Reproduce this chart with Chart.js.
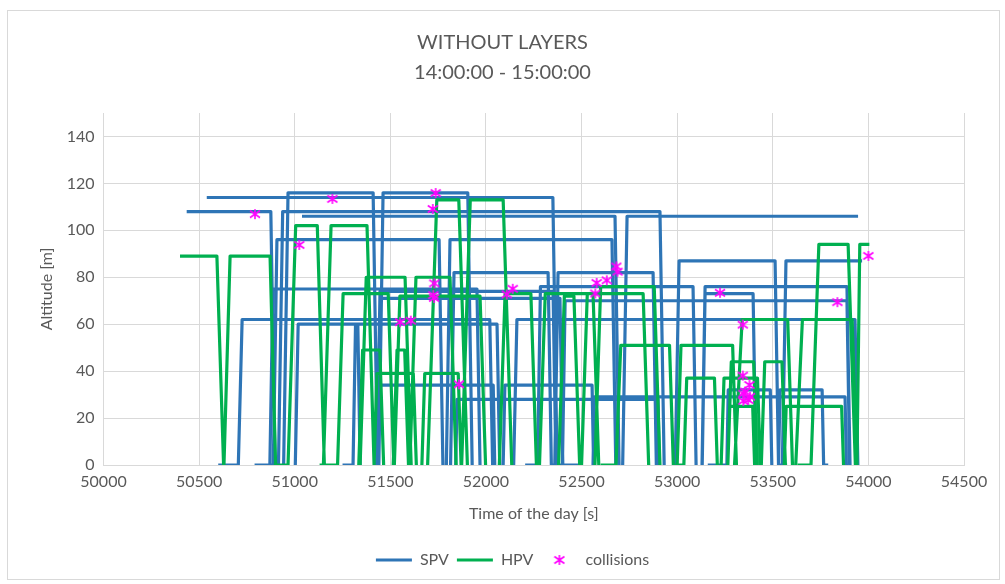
<!DOCTYPE html>
<html>
<head>
<meta charset="utf-8">
<script src="https://cdn.jsdelivr.net/npm/chart.js@4.4.1/dist/chart.umd.min.js"></script>
<style>
  html, body { margin: 0; padding: 0; background: #ffffff; }
  #wrap { position: relative; width: 1005px; height: 584px; }
  canvas { display: block; }
</style>
</head>
<body>
<div id="wrap"><canvas id="chart" width="1005" height="584"></canvas></div>
<script>
// Flight profiles: each flight is a list of [time of day (s), altitude (m)] vertices.
const spvFlights = [
  [[50540,114],[52350,114],[52372,0]],
  [[50435,108],[50875,108],[50897,0]],
  [[50790,0],[50915,0],[50937,108],[52910,108],[52932,0]],
  [[50942,0],[50965,116],[51410,116],[51433,0]],
  [[51440,0],[51462,116],[51905,116],[51928,0]],
  [[51038,106],[52675,106],[52696,0]],
  [[52715,0],[52738,106],[53946,106]],
  [[50888,0],[50907,96],[51755,96],[51775,0]],
  [[51793,0],[51812,96],[52659,96],[52679,0]],
  [[52990,0],[53010,87],[53512,87],[53530,0],[53575,0]],
  [[53550,0],[53569,87],[53967,87]],
  [[51815,0],[51833,82],[52325,82],[52342,0],[52490,0]],
  [[52360,0],[52377,82],[52874,82],[52891,0]],
  [[52205,0],[52270,0],[52285,76],[53083,76],[53099,0]],
  [[53130,0],[53146,76],[53888,76],[53904,0]],
  [[53131,0],[53146,73],[53397,73],[53412,0]],
  [[50870,0],[50886,75],[51953,75],[51969,0]],
  [[51430,0],[51446,74],[52351,74],[52366,0]],
  [[51432,0],[51446,71],[52387,71],[52402,0]],
  [[52400,0],[52414,70],[53888,70],[53902,0]],
  [[50600,0],[50705,0],[50725,62],[52020,62],[52035,0]],
  [[52145,0],[52162,62],[53930,62],[53945,0]],
  [[51003,0],[51018,60],[52058,60],[52072,0]],
  [[51250,0],[51305,0],[51318,60],[51330,60],[51342,0]],
  [[51428,0],[51436,34],[52038,34],[52046,0]],
  [[52090,0],[52099,34],[52555,34],[52563,0]],
  [[51842,0],[51849,28],[52900,28],[52907,0]],
  [[52560,0],[52567,29],[53878,29],[53885,0]],
  [[53160,0],[53260,0],[53267,32],[53487,32],[53495,0]],
  [[53530,0],[53538,32],[53758,32],[53766,0],[53790,0]]
];

const hpvFlights = [
  [[50400,89],[50593,89],[50628,0]],
  [[50630,0],[50662,89],[50871,89],[50900,0]],
  [[50890,0],[50965,0],[51005,102],[51118,102],[51155,0]],
  [[51150,0],[51190,102],[51378,102],[51415,0]],
  [[51695,0],[51743,113],[51858,113],[51903,0]],
  [[51873,0],[51918,113],[52090,113],[52135,0]],
  [[53630,0],[53700,0],[53741,94],[53894,94],[53932,0]],
  [[53940,0],[53955,94],[54005,94]],
  [[51342,0],[51374,80],[51577,80],[51609,0]],
  [[51602,0],[51634,80],[51812,80],[51844,0]],
  [[52570,0],[52600,76],[52880,76],[52910,0]],
  [[51130,0],[51224,0],[51253,73],[51489,73],[51518,0]],
  [[51521,0],[51550,72],[51969,72],[51998,0]],
  [[52070,0],[52100,73],[52235,73],[52264,0]],
  [[52280,0],[52310,73],[52822,73],[52851,0]],
  [[52380,0],[52410,72],[52460,72],[52490,0]],
  [[52500,0],[52530,73],[52560,73],[52590,0]],
  [[53300,0],[53340,62],[53578,62],[53603,0]],
  [[53620,0],[53655,62],[53915,62],[53940,0]],
  [[52600,0],[52680,0],[52705,51],[52960,51],[52980,0]],
  [[53000,0],[53020,51],[53290,51],[53310,0]],
  [[53265,0],[53283,44],[53400,44],[53418,0]],
  [[53440,0],[53458,44],[53548,44],[53566,0]],
  [[52990,0],[53035,0],[53050,37],[53195,37],[53210,0]],
  [[53230,0],[53245,37],[53420,37],[53435,0]],
  [[53265,0],[53275,25],[53395,25],[53405,0]],
  [[53560,0],[53570,25],[53860,25],[53870,0]],
  [[51335,0],[51355,49],[51445,49],[51465,0]],
  [[51515,0],[51535,49],[51575,49],[51595,0]],
  [[51415,0],[51430,39],[51620,39],[51636,0]],
  [[51665,0],[51680,39],[51855,39],[51870,0]]
];

// Detected conflicts between the two vehicle types.
const collisionTime = [50792,51024,51197,51737,51722,51730,51725,51729,51551,51607,51859,
  52109,52140,52579,52572,52632,52682,52688,53224,53343,53343,53378,53355,53381,53346,53372,53346,
  53838,54000];
const collisionAlt = [106.9,93.8,113.4,115.9,109.1,77.4,72.4,71.2,60.9,61.5,34.4,
  72.7,75.1,77.6,73.1,78.7,84.6,82.4,73.4,59.8,38.1,34.1,31.3,29.1,27.3,27.7,30.4,
  69.4,89.1];

const xTickValues = [50000,50500,51000,51500,52000,52500,53000,53500,54000,54500];
const yTickValues = [0,20,40,60,80,100,120,140];

const seriesNames = ['SPV', 'HPV', 'collisions'];
const spvColor = '#2E75B6';
const hpvColor = '#00B050';
const hitColor = '#FF00FF';
const textColor = '#595959';
const gridColor = '#D9D9D9';
const fontFamily = 'Lato, "Open Sans", "Noto Sans", sans-serif';

// Join flights into one polyline per fleet, breaking the line between flights.
function toPolyline(flights) {
  const pts = [];
  flights.forEach(f => {
    f.forEach(([t, a]) => pts.push({ x: t, y: a }));
    pts.push({ x: f[f.length - 1][0], y: null });
  });
  return pts;
}

// Asterisk marker (vertical bar plus a cross).
function makeAsterisk(size, color, lw) {
  const c = document.createElement('canvas');
  c.width = size; c.height = size;
  const g = c.getContext('2d');
  g.strokeStyle = color; g.lineWidth = lw;
  const m = size / 2, r = size / 2 - 1;
  g.beginPath();
  g.moveTo(m, m - r); g.lineTo(m, m + r);
  g.moveTo(m - r, m - r * 0.7); g.lineTo(m + r, m + r * 0.7);
  g.moveTo(m + r, m - r * 0.7); g.lineTo(m - r, m + r * 0.7);
  g.stroke();
  return c;
}
const asterisk = makeAsterisk(12, hitColor, 1.6);

// Outer frame of the chart.
const framePlugin = {
  id: 'frame',
  beforeDraw(chart) {
    const ctx = chart.ctx;
    ctx.save();
    ctx.fillStyle = '#ffffff';
    ctx.fillRect(0, 0, chart.width, chart.height);
    ctx.strokeStyle = '#D9D9D9';
    ctx.lineWidth = 1;
    ctx.strokeRect(7.5, 10.5, 992, 569);
    ctx.restore();
  }
};

// Nudge the legend row to sit slightly right of centre.
const legendShift = {
  id: 'legendShift',
  afterLayout(chart) {
    const lg = chart.legend;
    if (lg) { lg.left += 10; lg.right += 10; }
  }
};

const collisionPoints = collisionTime.map((t, i) => ({ x: t, y: collisionAlt[i] }));

new Chart(document.getElementById('chart'), {
  type: 'scatter',
  data: {
    datasets: [
      {
        label: seriesNames[2],
        data: collisionPoints,
        showLine: false,
        pointStyle: asterisk,
        pointRadius: 6,
        pointHoverRadius: 6
      },
      {
        label: seriesNames[1],
        data: toPolyline(hpvFlights),
        showLine: true,
        spanGaps: false,
        borderColor: hpvColor,
        backgroundColor: hpvColor,
        borderWidth: 3.2,
        borderJoinStyle: 'round',
        pointRadius: 0,
        tension: 0
      },
      {
        label: seriesNames[0],
        data: toPolyline(spvFlights),
        showLine: true,
        spanGaps: false,
        borderColor: spvColor,
        backgroundColor: spvColor,
        borderWidth: 3.2,
        borderJoinStyle: 'round',
        pointRadius: 0,
        tension: 0
      }
    ]
  },
  options: {
    responsive: false,
    animation: false,
    devicePixelRatio: 1,
    layout: { padding: { top: 10, left: 20, right: 20, bottom: 6 } },
    plugins: {
      tooltip: { enabled: false },
      title: {
        display: true,
        text: ['WITHOUT LAYERS', '14:00:00 - 15:00:00'],
        color: textColor,
        font: { family: fontFamily, size: 20, weight: '400', lineHeight: 1.5 },
        padding: { top: 18, bottom: 25 }
      },
      legend: {
        position: 'bottom',
        labels: {
          color: textColor,
          font: { family: fontFamily, size: 16 },
          usePointStyle: true,
          pointStyleWidth: 36,
          padding: 8,
          generateLabels() {
            return [
              { text: seriesNames[0], strokeStyle: spvColor, fillStyle: spvColor, lineWidth: 3, pointStyle: 'line', datasetIndex: 2, fontColor: textColor },
              { text: seriesNames[1], strokeStyle: hpvColor, fillStyle: hpvColor, lineWidth: 3, pointStyle: 'line', datasetIndex: 1, fontColor: textColor },
              { text: seriesNames[2], strokeStyle: hitColor, fillStyle: hitColor, lineWidth: 1, pointStyle: asterisk, datasetIndex: 0, fontColor: textColor }
            ];
          }
        }
      }
    },
    scales: {
      x: {
        type: 'linear',
        min: 50000,
        max: 54500,
        afterBuildTicks(s) { s.ticks = xTickValues.map(v => ({ value: v })); },
        afterFit(s) { s.height = 79; },
        grid: { color: gridColor, drawTicks: false, lineWidth: 1 },
        border: { display: true, color: gridColor },
        ticks: {
          color: textColor,
          padding: 7,
          maxRotation: 0,
          font: { family: fontFamily, size: 16 },
          callback: v => String(v)
        },
        title: {
          display: true,
          text: 'Time of the day [s]',
          color: textColor,
          font: { family: fontFamily, size: 16 },
          padding: { top: 0, bottom: 21 }
        }
      },
      y: {
        type: 'linear',
        min: 0,
        max: 150,
        afterBuildTicks(s) { s.ticks = yTickValues.map(v => ({ value: v })); },
        afterFit(s) { s.width = 83.5; },
        grid: { color: gridColor, drawTicks: false, lineWidth: 1 },
        border: { display: false },
        ticks: {
          color: textColor,
          padding: 9,
          font: { family: fontFamily, size: 16 },
          callback: v => String(v)
        },
        title: {
          display: true,
          text: 'Altitude [m]',
          color: textColor,
          font: { family: fontFamily, size: 16 },
          padding: { top: 17, bottom: 0 }
        }
      },
      yRight: {
        type: 'linear',
        position: 'right',
        display: true,
        afterFit(s) { s.width = 21; },
        grid: { display: false, drawTicks: false },
        border: { display: false },
        ticks: { display: false }
      }
    }
  },
  plugins: [framePlugin, legendShift]
});
</script>
</body>
</html>
